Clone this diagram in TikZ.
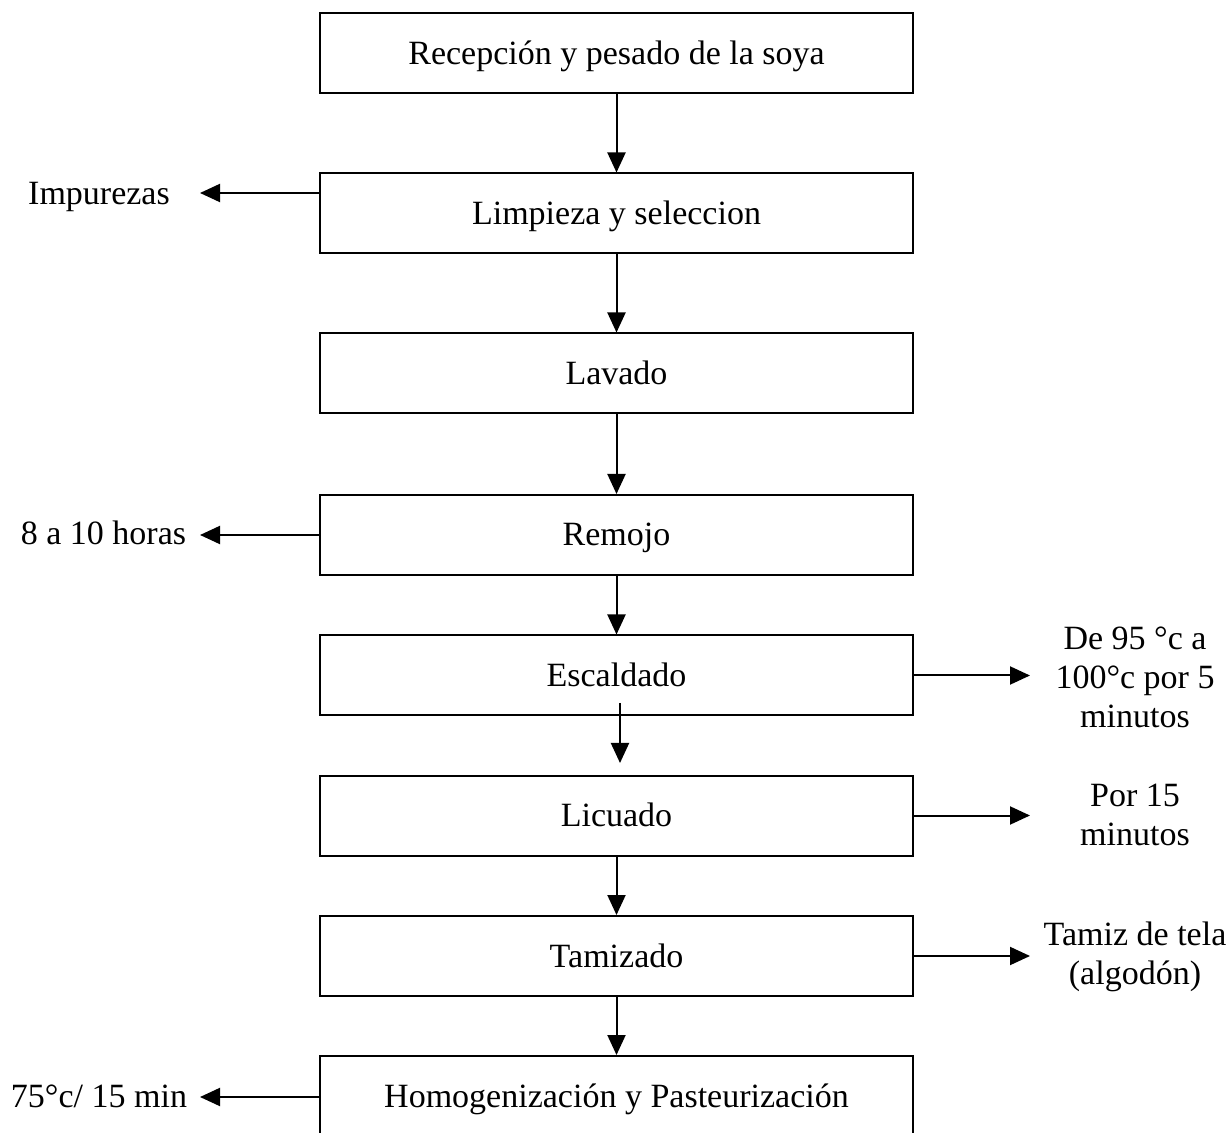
\documentclass[tikz,border=0pt]{standalone}
\usepackage{fontspec}
\setmainfont{Liberation Serif}
\usetikzlibrary{arrows.meta,calc}
\begin{document}
\begin{tikzpicture}[x=0.5pt,y=-0.5pt,
  procbox/.style={draw, line width=1pt, minimum width=296.5pt, minimum height=40pt,
    inner sep=0pt, font=\fontsize{17}{19.5}\selectfont, text height=13pt, text depth=2pt},
  lbl/.style={font=\fontsize{17}{19.5}\selectfont, inner sep=0pt, align=center},
  arr/.style={line width=1pt, -{Triangle[length=10pt,width=9pt]}}]
\useasboundingbox (0,0) rectangle (1232,1133);
% process boxes
\node[procbox] (b1) at (616.5,53.5) {Recepción y pesado de la soya};
\node[procbox] (b2) at (616.5,213.5) {Limpieza y seleccion};
\node[procbox] (b3) at (616.5,373.5) {Lavado};
\node[procbox] (b4) at (616.5,535) {Remojo};
\node[procbox] (b5) at (616.5,675.5) {Escaldado};
\node[procbox] (b6) at (616.5,815.5) {Licuado};
\node[procbox] (b7) at (616.5,956) {Tamizado};
\node[procbox] (b8) at (616.5,1096) {Homogenización y Pasteurización};
% main flow
\draw[arr] (b1) -- (b2);
\draw[arr] (b2) -- (b3);
\draw[arr] (b3) -- (b4);
\draw[arr] (b4) -- (b5);
\coordinate (e5) at (620,703);
\coordinate (e6) at (620,763);
\draw[arr] (e5) -- (e6);
\draw[arr] (b6) -- (b7);
\draw[arr] (b7) -- (b8);
% left side labels
\coordinate (t2) at (200,193);
\coordinate (t4) at (200,535);
\coordinate (t8) at (200,1097);
\draw[arr] (b2.west |- t2) -- (t2);
\draw[arr] (b4.west |- t4) -- (t4);
\draw[arr] (b8.west |- t8) -- (t8);
\node[lbl, anchor=base] (imp) at (99,205) {Impurezas};
\node[lbl, anchor=base] (hor) at (103.5,545) {8 a 10 horas};
\node[lbl, anchor=base] (pas) at (99,1107) {75°c/ 15 min};
% right side labels
\coordinate (r5) at (1030,675.5);
\coordinate (r6) at (1030,815.5);
\coordinate (r7) at (1030,956);
\draw[arr] (b5.east) -- (r5);
\draw[arr] (b6.east) -- (r6);
\draw[arr] (b7.east) -- (r7);
\node[lbl] (esc) at (1135,677) {De 95 °c a\\100°c por 5\\minutos};
\node[lbl] (lic) at (1135,815) {Por 15\\minutos};
\node[lbl] (tam) at (1135,957) {Tamiz de tela\\(algodón)};
\end{tikzpicture}
\end{document}
